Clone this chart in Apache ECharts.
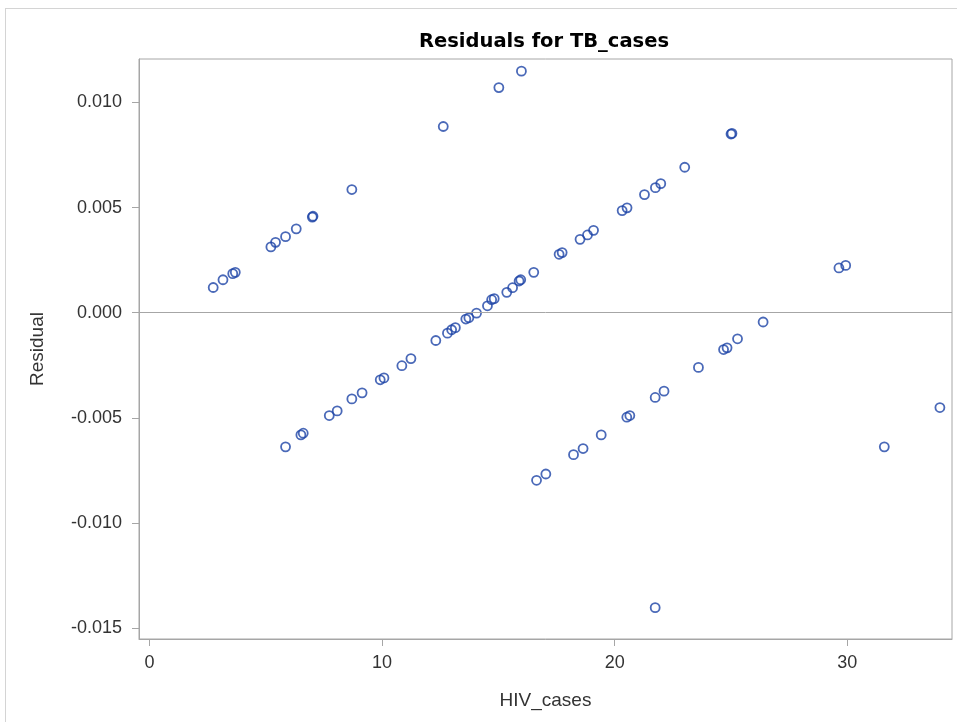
<!DOCTYPE html>
<html>
<head>
<meta charset="utf-8">
<script src="https://cdn.jsdelivr.net/npm/echarts@6/dist/echarts.min.js"></script>
<style>
  html, body { margin: 0; padding: 0; background: #fff; }
  #main { width: 957px; height: 722px; }
</style>
</head>
<body>
<div id="main"></div>
<script>
// HIV_cases (x) and residual (y)
var hivCases = [
  2.74, 3.16, 3.58, 3.69, 5.22, 5.42, 5.85, 6.31, 7.00, 7.03, 8.70,
  12.63, 15.02, 15.99, 25.00, 25.04,
  23.01, 21.98, 21.75, 21.28, 20.53, 20.32, 19.09, 18.83, 18.51, 17.74, 17.61,
  16.52, 15.96, 15.89, 15.61, 15.36, 14.82, 14.71, 14.53, 14.06, 13.73, 13.60,
  13.15, 12.99, 12.81, 12.31, 11.24, 10.85, 10.08, 9.92, 9.14, 8.70, 8.07, 7.73,
  6.61, 6.51, 5.85,
  26.38, 25.28, 24.83, 24.68, 23.60, 22.12, 21.74, 20.65, 20.52, 19.42, 18.64,
  18.23, 17.04, 16.64, 21.74,
  29.64, 29.93, 31.59, 33.98
];
var residuals = [
  0.00120, 0.00157, 0.00186, 0.00192, 0.00313, 0.00335, 0.00362, 0.00399, 0.00455, 0.00459, 0.00586,
  0.00886, 0.01071, 0.01149, 0.00850, 0.00853,
  0.00692, 0.00614, 0.00595, 0.00562, 0.00499, 0.00486, 0.00392, 0.00370, 0.00349, 0.00286, 0.00278,
  0.00192, 0.00157, 0.00151, 0.00119, 0.00097, 0.00067, 0.00062, 0.00033, -0.00002, -0.00024, -0.00030,
  -0.00071, -0.00081, -0.00097, -0.00132, -0.00218, -0.00252, -0.00310, -0.00319, -0.00381, -0.00410, -0.00467, -0.00489,
  -0.00573, -0.00581, -0.00638,
  -0.00044, -0.00124, -0.00167, -0.00175, -0.00260, -0.00373, -0.00403, -0.00489, -0.00497, -0.00581, -0.00646,
  -0.00675, -0.00767, -0.00797, -0.01403,
  0.00213, 0.00225, -0.00638, -0.00451
];
var xTicks = [0, 10, 20, 30];
var yTicks = [-0.015, -0.010, -0.005, 0.000, 0.005, 0.010];

var points = hivCases.map(function (x, i) { return [x, residuals[i]]; });

var chart = echarts.init(document.getElementById('main'));
var axisGray = '#a6a6a6';
var textColor = '#333333';
var fontFam = '"Liberation Sans", Arial, sans-serif';

var option = {
  animation: false,
  backgroundColor: '#ffffff',
  title: {
    text: 'Residuals for TB_cases',
    left: 539,
    textAlign: 'center',
    top: 27,
    textStyle: { fontFamily: '"DejaVu Sans", sans-serif', fontSize: 19.5, fontWeight: 'bold', color: '#000' }
  },
  graphic: [
    { type: 'line', shape: { x1: 5, y1: 8.5, x2: 957, y2: 8.5 }, style: { stroke: '#d4d4d4', lineWidth: 1 } },
    { type: 'line', shape: { x1: 5.5, y1: 8, x2: 5.5, y2: 722 }, style: { stroke: '#d4d4d4', lineWidth: 1 } }
  ],
  grid: {
    left: 139, top: 59, right: 5, bottom: 83,
    show: true, borderColor: axisGray, borderWidth: 1, backgroundColor: '#fff'
  },
  xAxis: {
    type: 'value',
    min: -0.45, max: 34.5,
    name: 'HIV_cases',
    nameLocation: 'middle',
    nameGap: 52,
    nameTextStyle: { fontFamily: fontFam, fontSize: 19, color: textColor },
    splitLine: { show: false },
    axisLine: { show: true, onZero: false, lineStyle: { color: axisGray } },
    axisTick: { show: true, length: 7, lineStyle: { color: axisGray }, customValues: xTicks },
    axisLabel: { fontFamily: fontFam, fontSize: 18, color: textColor, margin: 15, customValues: xTicks, showMinLabel: true, showMaxLabel: true }
  },
  yAxis: {
    type: 'value',
    min: -0.01552, max: 0.01207,
    name: 'Residual',
    nameLocation: 'middle',
    nameGap: 92,
    nameRotate: 90,
    nameTextStyle: { fontFamily: fontFam, fontSize: 19, color: textColor },
    splitLine: { show: false },
    axisLine: { show: true, onZero: false, lineStyle: { color: axisGray } },
    axisTick: { show: true, length: 7, lineStyle: { color: axisGray }, customValues: yTicks },
    axisLabel: {
      fontFamily: fontFam, fontSize: 18, color: textColor, margin: 17, customValues: yTicks,
      formatter: function (v) { return (Math.abs(v) < 1e-9 ? 0 : v).toFixed(3); }
    }
  },
  series: [{
    type: 'scatter',
    data: points,
    symbol: 'circle',
    symbolSize: 9,
    itemStyle: { color: 'rgba(255,255,255,0)', borderColor: '#1d44a6', borderWidth: 1.8 },
    markLine: {
      silent: true,
      symbol: 'none',
      label: { show: false },
      lineStyle: { color: axisGray, type: 'solid', width: 1 },
      data: [{ yAxis: 0 }]
    },
    z: 3
  }]
};
chart.setOption(option);
</script>
</body>
</html>
